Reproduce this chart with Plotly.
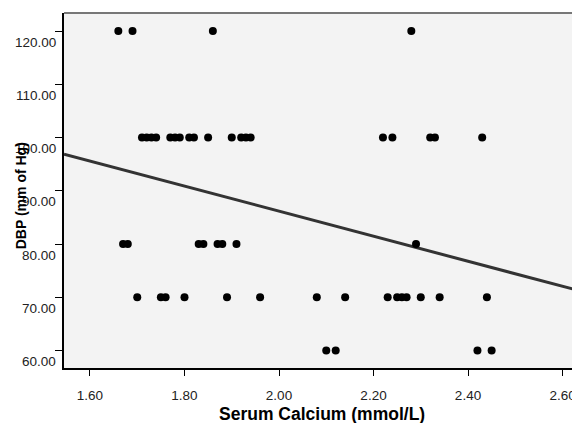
import plotly.graph_objects as go

# Data
calcium = [1.66, 1.69, 1.86, 2.28,
           1.71, 1.72, 1.73, 1.74, 1.77, 1.78, 1.79, 1.81, 1.82, 1.85, 1.90, 1.92, 1.93, 1.94,
           2.22, 2.24, 2.32, 2.33, 2.43,
           1.67, 1.68, 1.83, 1.84, 1.87, 1.88, 1.91, 2.29,
           1.70, 1.75, 1.76, 1.80, 1.89, 1.96, 2.08, 2.14, 2.23, 2.25, 2.26, 2.27, 2.30, 2.34, 2.44,
           2.10, 2.12, 2.42, 2.45]
dbp = [120, 120, 120, 120,
       100, 100, 100, 100, 100, 100, 100, 100, 100, 100, 100, 100, 100, 100,
       100, 100, 100, 100, 100,
       80, 80, 80, 80, 80, 80, 80, 80,
       70, 70, 70, 70, 70, 70, 70, 70, 70, 70, 70, 70, 70, 70, 70,
       60, 60, 60, 60]

fit_x = [1.545, 2.637]
fit_y = [96.88, 71.2]

x_ticks = [1.60, 1.80, 2.00, 2.20, 2.40, 2.60]
x_tick_text = ["1.60", "1.80", "2.00", "2.20", "2.40", "2.60"]
y_ticks = [60, 70, 80, 90, 100, 110, 120]
y_tick_text = ["60.00", "70.00", "80.00", "90.00", "100.00", "110.00", "120.00"]

FONT = "Liberation Sans, Arial, sans-serif"

fig = go.Figure()
fig.add_trace(go.Scatter(x=fit_x, y=fit_y, mode="lines",
                         line=dict(color="#333333", width=3), hoverinfo="skip"))
fig.add_trace(go.Scatter(x=calcium, y=dbp, mode="markers",
                         marker=dict(color="black", size=8, line=dict(width=0))))

annotations = []
for v, t in zip(y_ticks, y_tick_text):
    annotations.append(dict(x=0, xref="paper", y=v, yref="y", text=t,
                            showarrow=False, xanchor="right", yanchor="middle",
                            xshift=-6, yshift=-11,
                            font=dict(family=FONT, size=13.5, color="#222222")))
annotations.append(dict(x=-0.0835, xref="paper", y=0.33, yref="paper",
                        text="<b>DBP (mm of Hg)</b>", showarrow=False, textangle=-90,
                        xanchor="center", yanchor="bottom",
                        font=dict(family=FONT, size=14, color="black")))
annotations.append(dict(x=0.5, xref="paper", y=-0.129, yref="paper",
                        text="<b>Serum Calcium (mmol/L)</b>", showarrow=False,
                        xanchor="center", yanchor="middle",
                        font=dict(family=FONT, size=17.5, color="black")))

# the page body has an 8px default margin, so the figure is sized to fit the window
fig.update_layout(
    width=572, height=415,
    margin=dict(l=56, r=0, t=5, b=55),
    paper_bgcolor="white",
    plot_bgcolor="#f3f3f3",
    showlegend=False,
    annotations=annotations,
    shapes=[dict(type="line", xref="paper", yref="paper", x0=0, x1=1, y0=1, y1=1,
                 line=dict(color="#777777", width=2))],
    xaxis=dict(range=[1.545, 2.637], tickvals=x_ticks, ticktext=x_tick_text,
               automargin=False,
               showgrid=False, zeroline=False, showline=True, linecolor="black", linewidth=2,
               ticks="outside", ticklen=6, tickcolor="black", tickwidth=1,
               ticklabelstandoff=8,
               tickfont=dict(family=FONT, size=13.5, color="#222222")),
    yaxis=dict(range=[56.73, 123.38], tickvals=y_ticks, showticklabels=False,
               automargin=False,
               showgrid=False, zeroline=False, showline=True, linecolor="black", linewidth=2,
               ticks="outside", ticklen=7, tickcolor="black", tickwidth=1),
)

fig.write_html("out.html")
